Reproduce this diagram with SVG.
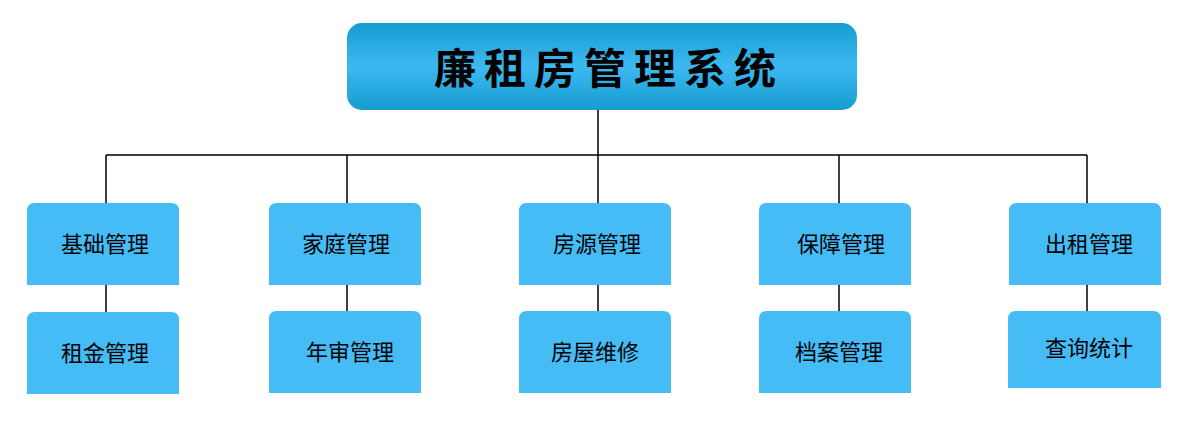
<svg xmlns="http://www.w3.org/2000/svg" width="1190" height="424" viewBox="0 0 1190 424">
<style>
.b{fill:#46bcf7}
.t{font-family:"Noto Sans CJK SC",sans-serif;font-size:22px;fill:#000;text-anchor:middle}
.l{stroke:#000;stroke-width:1.5;fill:none}
</style>
<defs>
<linearGradient id="g" x1="0" y1="0" x2="0" y2="1">
<stop offset="0" stop-color="#169ccf"/><stop offset="0.5" stop-color="#3db9f2"/><stop offset="1" stop-color="#169ccf"/>
</linearGradient>
<path id="bx" d="M0,8 Q0,0 8,0 H144 Q152,0 152,8 V82 H0 Z"/>
</defs>
<g id="connectors" class="l">
<path d="M598,110 V203 M106,155 H1087 M106,155 V203 M347,155 V203 M839,155 V203 M1087,155 V203"/>
<path d="M106,285 V312 M347,285 V311 M598,285 V311 M839,285 V311 M1087,285 V311"/>
</g>
<g id="root"><rect x="347" y="23" width="510" height="87" rx="15" fill="url(#g)"/>
<text x="609" y="84" style="font-family:'Noto Sans CJK SC',sans-serif;font-size:42px;font-weight:bold;letter-spacing:8px" text-anchor="middle">廉租房管理系统</text></g>
<g id="n1"><use href="#bx" x="27" y="203" class="b"/><text class="t" x="105" y="252">基础管理</text></g>
<g id="n2"><use href="#bx" x="269" y="203" class="b"/><text class="t" x="346" y="252">家庭管理</text></g>
<g id="n3"><use href="#bx" x="519" y="203" class="b"/><text class="t" x="597" y="252">房源管理</text></g>
<g id="n4"><use href="#bx" x="759" y="203" class="b"/><text class="t" x="841" y="252">保障管理</text></g>
<g id="n5"><use href="#bx" x="1009" y="203" class="b"/><text class="t" x="1089" y="252">出租管理</text></g>
<g id="n6"><use href="#bx" x="27" y="312" class="b"/><text class="t" x="105" y="361">租金管理</text></g>
<g id="n7"><use href="#bx" x="269" y="311" class="b"/><text class="t" x="350" y="360">年审管理</text></g>
<g id="n8"><use href="#bx" x="519" y="311" class="b"/><text class="t" x="595" y="360">房屋维修</text></g>
<g id="n9"><use href="#bx" x="759" y="311" class="b"/><text class="t" x="839" y="360">档案管理</text></g>
<g id="n10"><path d="M1008,319 Q1008,311 1016,311 H1153 Q1161,311 1161,319 V388 H1008 Z" class="b"/><text class="t" x="1089" y="356">查询统计</text></g>
</svg>
